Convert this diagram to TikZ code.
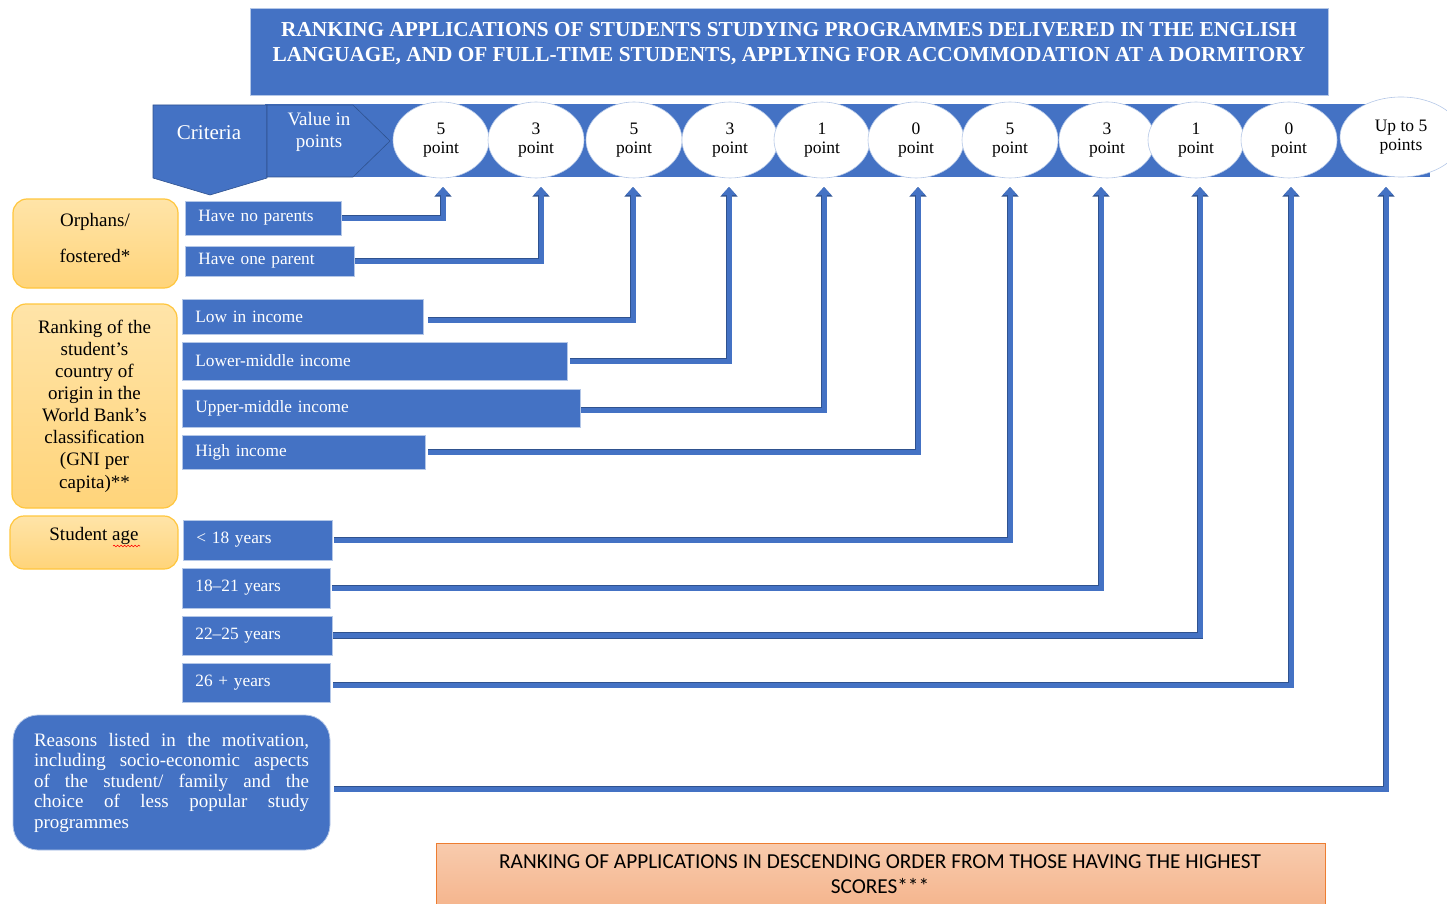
\documentclass[tikz,border=0pt]{standalone}
\usepackage{fontspec}
\setmainfont{Liberation Serif}[BoldFont={Liberation Serif Bold}]
\newfontfamily\calibri{Carlito}
\usetikzlibrary{arrows.meta,shapes.geometric,decorations.pathmorphing}

\definecolor{wblue}{HTML}{4472C4}
\definecolor{wdark}{HTML}{2F528F}
\definecolor{wedge}{HTML}{B4C7E7}
\definecolor{ortop}{HTML}{FFE4A8}
\definecolor{orbot}{HTML}{FFD47A}
\definecolor{oredge}{HTML}{FFC63D}
\definecolor{sltop}{HTML}{F8CBAD}
\definecolor{slbot}{HTML}{F4AF85}
\definecolor{sledge}{HTML}{ED7D31}

\newcommand\fsz[2]{\fontsize{#1}{#2}\selectfont}

\tikzset{
  optbox/.style={fill=wblue, draw=wedge, line width=0.8pt, text=white,
    font=\fsz{17.3}{20}, inner xsep=13pt, inner ysep=0pt, anchor=west, align=left},
  critbox/.style={rounded corners=14pt, top color=ortop, bottom color=orbot,
    draw=oredge, line width=1.2pt},
  score/.style={ellipse, fill=white, draw=wedge, line width=0.6pt,
    minimum width=96pt, minimum height=76pt, inner sep=0pt, align=center,
    font=\fsz{17.5}{19}},
  conn/.style={draw=wblue, line width=5pt, -{Triangle[width=14pt,length=8pt]},
    preaction={draw=wdark, line width=6.5pt, -{Triangle[width=16.5pt,length=9.5pt]}}},
}

\begin{document}
\begin{tikzpicture}[x=1pt, y=-1pt]
\useasboundingbox (0,0) rectangle (1447,904);

% title banner
\node[fill=wblue, draw=wedge, line width=0.8pt, minimum width=1078pt, minimum height=87pt] (title) at (789,51.5) {};
\node[text=white, font=\bfseries\fsz{21.3}{25}, align=center] (titleT) at (789,44)
  {RANKING APPLICATIONS OF STUDENTS STUDYING PROGRAMMES DELIVERED IN THE ENGLISH\\
   LANGUAGE, AND OF FULL-TIME STUDENTS, APPLYING FOR ACCOMMODATION AT A DORMITORY};

% header band
\fill[wblue] (265,104) rectangle (1430,177);
\path[fill=wblue, draw=wdark, line width=0.6pt] (153,105) -- (267,105) -- (267,178) -- (210,195) -- (153,178) -- cycle;
\path[fill=wblue, draw=wdark, line width=0.6pt] (267,105) -- (353,105) -- (390,141) -- (353,177) -- (267,177) -- cycle;
\node[text=white, font=\fsz{21}{22}] (critT) at (209,133) {Criteria};
\node[text=white, font=\fsz{19}{22}, align=center] (valT) at (319,132) {Value in\\points};

% score ellipses
\node[score] (e1) at (441,140) {5\\point};
\node[score] (e2) at (536,140) {3\\point};
\node[score] (e3) at (634,140) {5\\point};
\node[score] (e4) at (730,140) {3\\point};
\node[score] (e5) at (822,140) {1\\point};
\node[score] (e6) at (916,140) {0\\point};
\node[score] (e7) at (1010,140) {5\\point};
\node[score] (e8) at (1107,140) {3\\point};
\node[score] (e9) at (1196,140) {1\\point};
\node[score] (e10) at (1289,140) {0\\point};
\node[score, minimum width=122pt, minimum height=80pt] (e11) at (1401,137) {Up to 5\\points};

% arrow targets under the ellipses
\coordinate (t1) at (443,187);
\coordinate (t2) at (541,187);
\coordinate (t3) at (633,187);
\coordinate (t4) at (729,187);
\coordinate (t5) at (824,187);
\coordinate (t6) at (918,187);
\coordinate (t7) at (1010,187);
\coordinate (t8) at (1101,187);
\coordinate (t9) at (1200,187);
\coordinate (t10) at (1291,187);
\coordinate (t11) at (1386,187);

% criteria groups
\node[critbox, minimum width=165pt, minimum height=89pt] (orph) at (95.5,243.5) {};
\node[font=\fsz{19}{36}, align=center] (orphT) at (95,238) {Orphans/\\fostered*};
\node[critbox, minimum width=165pt, minimum height=204pt, font=\fsz{19}{22.1}, align=center] (gni) at (94.5,406)
  {Ranking of the\\student’s\\country of\\origin in the\\World Bank’s\\classification\\(GNI per\\capita)**};
\node[critbox, minimum width=168pt, minimum height=53pt] (age) at (94,542.5) {};
\node[font=\fsz{19}{19}] (ageT) at (94,536) {Student age};
\draw[red, line width=0.6pt, decorate, decoration={snake, amplitude=0.8pt, segment length=3.5pt}] (113,546) -- (140,546);

% options
\node[optbox, minimum width=156pt, text width=130pt, minimum height=34pt] (np) at (185,218) {Have no parents};
\node[optbox, minimum width=169pt, text width=143pt, minimum height=30pt] (op) at (185,261) {Have one parent};
\node[optbox, minimum width=241pt, text width=215pt, minimum height=35pt] (li) at (182,316.5) {Low in income};
\node[optbox, minimum width=385pt, text width=359pt, minimum height=38pt] (lm) at (182,361) {Lower-middle income};
\node[optbox, minimum width=398pt, text width=372pt, minimum height=38pt] (um) at (182,408) {Upper-middle income};
\node[optbox, minimum width=243pt, text width=217pt, minimum height=34pt] (hi) at (182,452) {High income};
\node[optbox, minimum width=149pt, text width=123pt, minimum height=40pt] (a1) at (183,540) {< 18 years};
\node[optbox, minimum width=148pt, text width=122pt, minimum height=40pt] (a2) at (182,588) {18–21 years};
\node[optbox, minimum width=150pt, text width=124pt, minimum height=39pt] (a3) at (182,635.5) {22–25 years};
\node[optbox, minimum width=148pt, text width=122pt, minimum height=39pt] (a4) at (182,682.5) {26 + years};
\node[fill=wblue, draw=wedge, line width=0.8pt, rounded corners=25pt, minimum width=317pt,
      minimum height=135pt, text width=275pt, inner xsep=21pt, align=justify, text=white,
      font=\fsz{19}{20.5}] (rs) at (171.5,782.5)
  {Reasons listed in the motivation,\linebreak including socio-economic aspects\linebreak
   of the student/ family and the\linebreak choice of less popular study\linebreak programmes};

% connectors
\draw[conn] (np.east) -| (t1);
\draw[conn] (op.east) -| (t2);
\draw[conn] ([xshift=4pt,yshift=-3.5pt]li.east) -| (t3);
\draw[conn] ([xshift=2pt]lm.east) -| (t4);
\draw[conn] ([yshift=-2pt]um.east) -| (t5);
\draw[conn] ([xshift=2pt]hi.east) -| (t6);
\draw[conn] ([xshift=1pt]a1.east) -| (t7);
\draw[conn] ([xshift=1pt]a2.east) -| (t8);
\draw[conn] (a3.east) -| (t9);
\draw[conn] ([xshift=2pt,yshift=-2.5pt]a4.east) -| (t10);
\draw[conn] ([xshift=4pt,yshift=-6.5pt]rs.east) -| (t11);

% result
\node[top color=sltop, bottom color=slbot, draw=sledge, line width=1pt, minimum width=889pt,
      minimum height=80pt, anchor=north west] (rank) at (436,843) {};
\node[font=\calibri\fsz{21.3}{25}, align=center] (rankT) at (880,874.5)
  {RANKING OF APPLICATIONS IN DESCENDING ORDER FROM THOSE HAVING THE HIGHEST\\SCORES***};
\end{tikzpicture}
\end{document}
